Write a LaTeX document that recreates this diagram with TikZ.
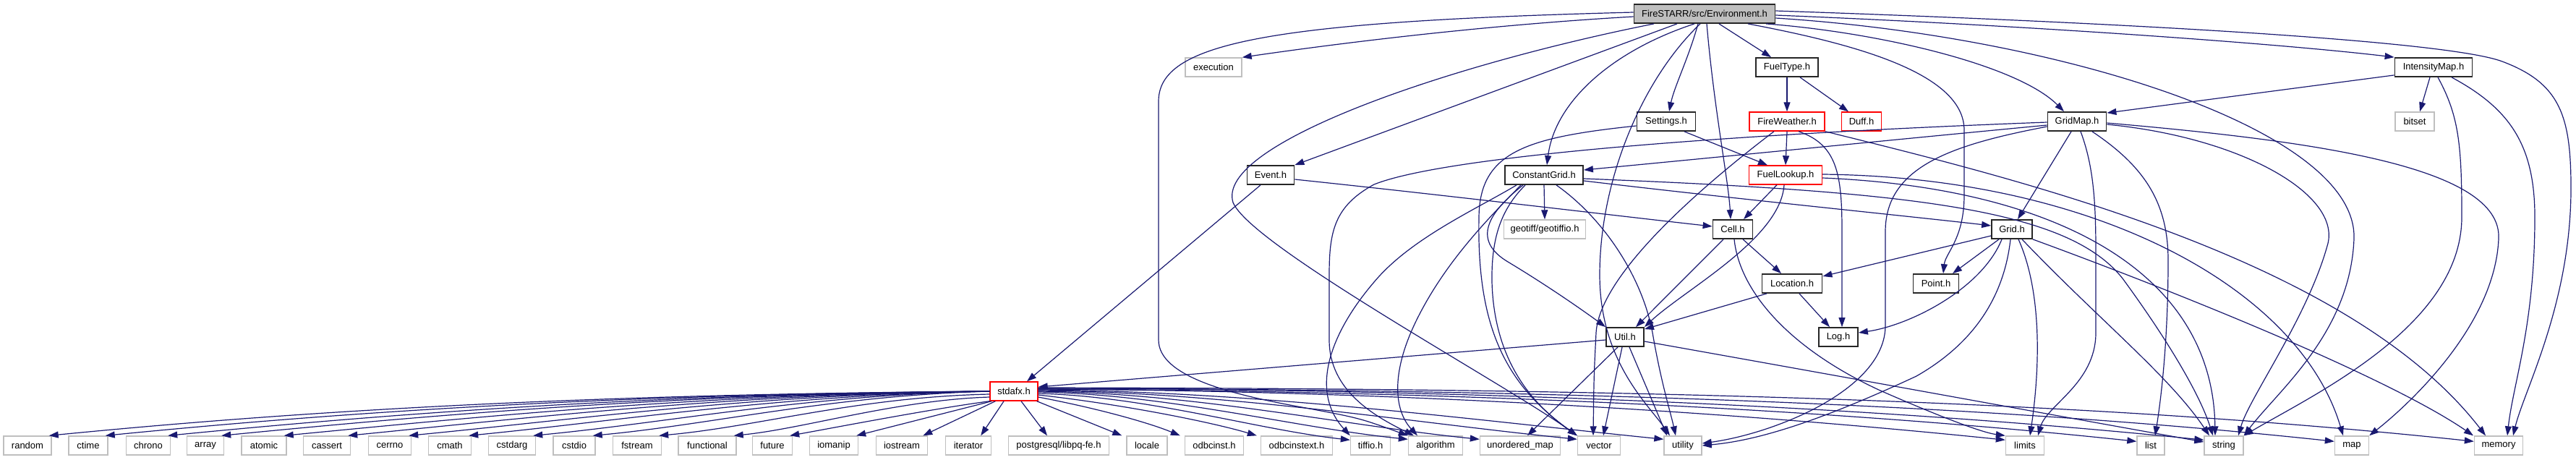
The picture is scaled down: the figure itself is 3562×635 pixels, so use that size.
\documentclass[tikz,border=0pt]{standalone}
\usepackage{fontspec}
\setmainfont{Liberation Sans}
\usetikzlibrary{arrows.meta}
\definecolor{edgecol}{HTML}{191970}
\definecolor{syscol}{HTML}{BFBFBF}
\definecolor{rootfill}{HTML}{BFBFBF}
\definecolor{redcol}{HTML}{FF0000}
\newcommand\mknode[5]{\node[#1,minimum width=#2pt] (#3) at (#4) {#5};}
\begin{document}
\begin{tikzpicture}[x=1pt,y=-1pt,
 base/.style={rectangle, minimum height=26pt, inner xsep=1pt, inner ysep=0pt, font=\fontsize{13}{15}\selectfont, text=black},
 sysbox/.style={base, draw=syscol, line width=1.4pt},
 intbox/.style={base, draw=black!85, line width=1.8pt},
 redbox/.style={base, draw=redcol, line width=1.4pt},
 rootbox/.style={intbox, fill=rootfill},
 e/.style={draw=edgecol, line width=1.2pt, -{Triangle[length=13pt,width=9pt]}}]
\useasboundingbox (0,0) rectangle (3562,635);
% nodes
\mknode{rootbox}{195}{E}{2357,19}{FireSTARR/src/Environment.h}
\mknode{sysbox}{78}{exec}{1678,93}{execution}
\mknode{intbox}{86}{FuelType}{2471,93}{FuelType.h}
\mknode{intbox}{107}{IntMap}{3365,93}{IntensityMap.h}
\mknode{intbox}{81}{Settings}{2304,168}{Settings.h}
\mknode{redbox}{104}{FireWeather}{2471,168}{FireWeather.h}
\mknode{redbox}{55}{Duff}{2574,168}{Duff.h}
\mknode{intbox}{81}{GridMap}{2872,168}{GridMap.h}
\mknode{sysbox}{54}{bitset}{3339,168}{bitset}
\mknode{intbox}{65}{Event}{1757,242}{Event.h}
\mknode{intbox}{108}{ConstantGrid}{2135,242}{ConstantGrid.h}
\mknode{redbox}{101}{FuelLookup}{2469,242}{FuelLookup.h}
\mknode{sysbox}{113}{geotiff}{2136,317}{geotiff/geotiffio.h}
\mknode{intbox}{55}{Cell}{2396,317}{Cell.h}
\mknode{intbox}{56}{Grid}{2782,317}{Grid.h}
\mknode{intbox}{83}{Location}{2478,392}{Location.h}
\mknode{intbox}{63}{Point}{2677,392}{Point.h}
\mknode{intbox}{52}{Util}{2247,466}{Util.h}
\mknode{intbox}{54}{Log}{2542,466}{Log.h}
\mknode{redbox}{66}{stdafx}{1402,541}{stdafx.h}
\mknode{sysbox}{66}{random}{38,616}{random}
\mknode{sysbox}{54}{ctime}{122,616}{ctime}
\mknode{sysbox}{61}{chrono}{205,616}{chrono}
\mknode{sysbox}{51}{array}{284,616}{array}
\mknode{sysbox}{62}{atomic}{365,616}{atomic}
\mknode{sysbox}{65}{cassert}{452,616}{cassert}
\mknode{sysbox}{59}{cerrno}{539,616}{cerrno}
\mknode{sysbox}{59}{cmath}{622,616}{cmath}
\mknode{sysbox}{65}{cstdarg}{708,616}{cstdarg}
\mknode{sysbox}{58}{cstdio}{794,616}{cstdio}
\mknode{sysbox}{67}{fstream}{881,616}{fstream}
\mknode{sysbox}{80}{functional}{978,616}{functional}
\mknode{sysbox}{55}{future}{1068,616}{future}
\mknode{sysbox}{67}{iomanip}{1153,616}{iomanip}
\mknode{sysbox}{71}{iostream}{1247,616}{iostream}
\mknode{sysbox}{63}{iterator}{1339,616}{iterator}
\mknode{sysbox}{139}{postgresql}{1464,616}{postgresql/libpq-fe.h}
\mknode{sysbox}{56}{locale}{1586,616}{locale}
\mknode{sysbox}{81}{odbcinst}{1679,616}{odbcinst.h}
\mknode{sysbox}{99}{odbcinstext}{1793,616}{odbcinstext.h}
\mknode{sysbox}{55}{tiffio}{1895,616}{tiffio.h}
\mknode{sysbox}{75}{algorithm}{1985,616}{algorithm}
\mknode{sysbox}{111}{unorderedmap}{2102,616}{unordered\_map}
\mknode{sysbox}{59}{vector}{2211,616}{vector}
\mknode{sysbox}{52}{utility}{2327,616}{utility}
\mknode{sysbox}{53}{limits}{2800,616}{limits}
\mknode{sysbox}{38}{list}{2974,616}{list}
\mknode{sysbox}{54}{string}{3075,616}{string}
\mknode{sysbox}{47}{map}{3252,616}{map}
\mknode{sysbox}{67}{memory}{3455,616}{memory}
% Environment.h edges
\draw[e] ([yshift=-4pt]E.west) .. controls (2050,35) and (1850,60) .. (exec.north east);
\draw[e] ([yshift=2pt]E.west) .. controls (1750,30) and (1602,60) .. (1602,140) -- (1602,470) .. controls (1602,520) and (1700,545) .. (1800,563) .. controls (1880,578) .. (algorithm.north west);
\draw[e] ([xshift=-70pt]E.south) .. controls (2000,90) and (1680,200) .. (1705,280) .. controls (1730,340) and (2080,530) .. (vector.north west);
\draw[e] ([xshift=-38pt]E.south) -- (Event.north east);
\draw[e] ([xshift=-14pt]E.south) .. controls (2230,70) and (2150,140) .. ([xshift=4pt]ConstantGrid.north);
\draw[e] ([xshift=-9pt]E.south) .. controls (2335,80) and (2315,120) .. ([xshift=4pt]Settings.north);
\draw[e] ([xshift=-6pt]E.south) .. controls (2270,110) and (2212,250) .. (2212,380) .. controls (2212,500) and (2280,560) .. ([xshift=-18pt]utility.north);
\draw[e] ([xshift=3pt]E.south) .. controls (2370,150) and (2390,250) .. ([xshift=-3pt]Cell.north);
\draw[e] ([xshift=20pt]E.south) -- ([xshift=-22pt]FuelType.north);
\draw[e] ([xshift=60pt]E.south) .. controls (2560,60) and (2716,100) .. (2716,180) -- (2716,270) .. controls (2716,330) and (2690,350) .. ([xshift=10pt]Point.north);
\draw[e] ([xshift=85pt]E.south) .. controls (2600,45) and (2790,90) .. ([xshift=-18pt]GridMap.north);
\draw[e] ([yshift=-6pt]E.east) .. controls (2850,50) and (3260,180) .. (3255,330) .. controls (3250,460) and (3150,540) .. (string.north east);
\draw[e] ([yshift=-2pt]E.east) .. controls (2800,35) and (3150,60) .. (IntMap.north west);
\draw[e] ([yshift=4pt]E.east) .. controls (2900,30) and (3380,55) .. (3460,85) .. controls (3540,115) and (3555,160) .. (3555,260) .. controls (3555,420) and (3490,540) .. ([xshift=20pt]memory.north);
% FuelType.h
\draw[e] (FuelType.south) -- (FireWeather.north);
\draw[e] ([xshift=18pt]FuelType.south) -- ([xshift=-18pt]Duff.north);
% IntensityMap.h
\draw[e] ([yshift=3pt]IntMap.south west) -- ([yshift=-2pt]GridMap.north east);
\draw[e] ([xshift=-5pt]IntMap.south) -- ([xshift=7pt]bitset.north);
\draw[e] ([xshift=6pt]IntMap.south) .. controls (3400,160) and (3404,200) .. (3404,300) .. controls (3404,450) and (3200,545) .. (string.north east);
\draw[e] ([xshift=25pt]IntMap.south) .. controls (3470,150) and (3505,200) .. (3505,300) .. controls (3505,450) and (3475,530) .. ([xshift=12pt]memory.north);
% Settings.h
\draw[e] ([xshift=25pt]Settings.south) -- ([xshift=-25pt]FuelLookup.north);
\draw[e] ([yshift=-6pt]Settings.west) .. controls (2110,190) and (2046,210) .. (2045,300) .. controls (2042,450) and (2080,530) .. (vector.north west);
% FireWeather.h
\draw[e] (FireWeather.south) -- (FuelLookup.north);
\draw[e] ([xshift=-18pt]FireWeather.south) .. controls (2350,260) and (2212,380) .. (2207,460) .. controls (2204,520) .. ([xshift=-8pt]vector.north);
\draw[e] ([xshift=16pt]FireWeather.south) .. controls (2540,200) and (2547,240) .. (2547,320) .. controls (2547,390) .. ([xshift=5pt]Log.north);
\draw[e] (FireWeather.south east) .. controls (2800,250) and (3250,360) .. ([xshift=-18pt]memory.north);
% FuelLookup.h
\draw[e] ([xshift=-12pt]FuelLookup.south) -- ([xshift=15pt]Cell.north);
\draw[e] ([xshift=-2pt]FuelLookup.south) .. controls (2462,330) and (2330,400) .. (Util.north east);
\draw[e] ([yshift=1pt]FuelLookup.east) .. controls (2900,245) and (3180,400) .. ([xshift=-12pt]map.north);
\draw[e] ([yshift=-4pt]FuelLookup.east) .. controls (2850,260) and (3060,380) .. ([xshift=-12pt]string.north);
% ConstantGrid.h
\draw[e] (ConstantGrid.south) -- (geotiff.north);
\draw[e] ([yshift=-8pt]ConstantGrid.east) .. controls (2400,275) and (2650,300) .. ([yshift=5pt]Grid.west);
\draw[e] ([yshift=-5pt]ConstantGrid.east) .. controls (2650,265) and (2860,290) .. (2935,385) .. controls (2990,460) and (3040,540) .. ([xshift=-15pt]string.north);
\draw[e] ([xshift=-38pt]ConstantGrid.south) .. controls (2040,290) and (1950,330) .. (1900,390) .. controls (1840,460) and (1810,540) .. (tiffio.north west);
\draw[e] ([xshift=-32pt]ConstantGrid.south) .. controls (2060,300) and (2000,360) .. (1960,440) .. controls (1920,520) and (1930,570) .. ([xshift=-25pt]algorithm.north);
\draw[e] ([xshift=-26pt]ConstantGrid.south) .. controls (2075,290) and (2062,330) .. (2063,390) .. controls (2066,500) and (2120,560) .. (vector.north west);
\draw[e] ([xshift=-29pt]ConstantGrid.south) .. controls (2050,300) and (2040,335) .. (2085,362) .. controls (2140,395) and (2190,430) .. (Util.north west);
\draw[e] ([xshift=17pt]ConstantGrid.south) .. controls (2215,300) and (2270,380) .. (2285,460) .. controls (2297,530) and (2310,570) .. ([xshift=-10pt]utility.north);
% Cell.h
\draw[e] ([xshift=14pt]Cell.south) -- ([xshift=-15pt]Location.north);
\draw[e] ([xshift=-13pt]Cell.south) -- ([xshift=15pt]Util.north);
\draw[e] ([xshift=2pt]Cell.south) .. controls (2405,400) and (2470,480) .. (2600,540) .. controls (2680,575) and (2740,598) .. (limits.north west);
% Location.h
\draw[e] ([xshift=-35pt]Location.south) -- ([yshift=-3pt]Util.north east);
\draw[e] ([xshift=10pt]Location.south) -- ([xshift=-12pt]Log.north);
% Grid.h
\draw[e] ([yshift=-9pt]Grid.west) -- ([yshift=10pt]Location.east);
\draw[e] ([xshift=-14pt]Grid.south) .. controls (2740,400) and (2640,450) .. ([yshift=6pt]Log.east);
\draw[e] ([xshift=-18pt]Grid.south) -- ([xshift=23pt]Point.north);
\draw[e] ([xshift=-2pt]Grid.south) .. controls (2770,420) and (2720,480) .. (2650,520) .. controls (2500,590) and (2420,610) .. (utility.east);
\draw[e] ([xshift=9pt]Grid.south) .. controls (2822,400) and (2822,500) .. ([xshift=7pt]limits.north);
\draw[e] ([xshift=14pt]Grid.south) .. controls (2900,440) and (3000,520) .. ([xshift=-20pt]string.north);
\draw[e] (Grid.south east) .. controls (3000,400) and (3300,520) .. ([xshift=-35pt]memory.north);
% GridMap.h
\draw[e] ([yshift=-5pt]GridMap.west) .. controls (2600,195) and (2400,215) .. ([yshift=7pt]ConstantGrid.east);
\draw[e] ([xshift=-8pt]GridMap.south) -- ([xshift=8pt]Grid.north);
\draw[e] ([xshift=5pt]GridMap.south) .. controls (2895,230) and (2898,280) .. (2898,350) -- (2898,460) .. controls (2898,530) and (2830,560) .. ([xshift=18pt]limits.north);
\draw[e] ([xshift=21pt]GridMap.south) .. controls (2965,230) and (2998,280) .. (2998,360) .. controls (2998,460) and (2990,540) .. ([xshift=6pt]list.north);
\draw[e] ([yshift=-4pt]GridMap.east) .. controls (3100,190) and (3240,270) .. (3218,340) .. controls (3190,440) and (3110,550) .. ([xshift=20pt]string.north);
\draw[e] ([yshift=-2pt]GridMap.east) .. controls (3200,195) and (3460,230) .. (3455,330) .. controls (3450,450) and (3330,560) .. (map.north east);
\draw[e] ([yshift=-7pt]GridMap.west) .. controls (2700,200) and (2607,230) .. (2607,320) -- (2607,450) .. controls (2607,540) and (2450,600) .. ([yshift=3pt]utility.east);
\draw[e] ([yshift=-1pt]GridMap.west) .. controls (2400,185) and (2000,215) .. (1900,255) .. controls (1845,285) and (1838,320) .. (1838,380) -- (1838,470) .. controls (1838,540) and (1900,575) .. ([xshift=-30pt]algorithm.north);
% Event.h
\draw[e] ([yshift=-6pt]Event.east) .. controls (2000,270) and (2250,300) .. ([yshift=4pt]Cell.west);
\draw[e] ([xshift=-14pt]Event.south) -- ([xshift=18pt]stdafx.north);
% Util.h
\draw[e] ([yshift=-4pt]Util.west) -- ([yshift=6pt]stdafx.east);
\draw[e] ([xshift=-10pt]Util.south) -- ([xshift=10pt]unorderedmap.north);
\draw[e] ([xshift=-4pt]Util.south) -- ([xshift=6pt]vector.north);
\draw[e] ([xshift=6pt]Util.south) -- ([xshift=-22pt]utility.north);
\draw[e] ([yshift=-6pt]Util.east) .. controls (2600,530) and (2900,585) .. ([yshift=5pt]string.west);
% stdafx.h
\draw[e] (stdafx.west) .. controls (848,545) and (458,564) .. ([xshift=-4pt]random.north east);
\draw[e] (stdafx.west) .. controls (879,545) and (512,566) .. ([xshift=-4pt]ctime.north east);
\draw[e] (stdafx.west) .. controls (914,545) and (572,569) .. ([xshift=-4pt]chrono.north east);
\draw[e] (stdafx.west) .. controls (944,545) and (625,571) .. ([xshift=-4pt]array.north east);
\draw[e] (stdafx.west) .. controls (978,545) and (685,574) .. ([xshift=-4pt]atomic.north east);
\draw[e] (stdafx.west) .. controls (1014,545) and (747,576) .. ([xshift=-4pt]cassert.north east);
\draw[e] (stdafx.west) .. controls (1047,545) and (806,579) .. ([xshift=-4pt]cerrno.north east);
\draw[e] (stdafx.west) .. controls (1080,546) and (864,581) .. ([xshift=-4pt]cmath.north east);
\draw[e] (stdafx.west) .. controls (1116,546) and (927,584) .. ([xshift=-4pt]cstdarg.north east);
\draw[e] (stdafx.west) .. controls (1149,547) and (984,587) .. ([xshift=-4pt]cstdio.north east);
\draw[e] ([yshift=-4pt]stdafx.west) .. controls (1185,549) and (1048,590) .. ([xshift=-4pt]fstream.north east);
\draw[e] ([yshift=-8pt]stdafx.west) .. controls (1240,553) and (1110,593) .. ([xshift=-4pt]functional.north east);
\draw[e] (stdafx.south west) .. controls (1290,565) and (1150,592) .. ([xshift=-4pt]future.north east);
\draw[e] ([xshift=3pt]stdafx.south west) -- ([xshift=-3pt]iomanip.north east);
\draw[e] ([xshift=8pt]stdafx.south west) -- ([xshift=-7pt]iostream.north east);
\draw[e] ([xshift=-14pt]stdafx.south) -- ([xshift=-15pt]iterator.north east);
\draw[e] ([xshift=10pt]stdafx.south) -- ([xshift=-16pt]postgresql.north);
\draw[e] ([xshift=-2pt]stdafx.south east) -- ([xshift=-6pt]locale.north west);
\draw[e] ([yshift=-8pt]stdafx.east) .. controls (1520,565) and (1590,585) .. ([xshift=-6pt]odbcinst.north west);
\draw[e] ([yshift=-5pt]stdafx.east) .. controls (1560,560) and (1680,585) .. ([xshift=-5pt]odbcinstext.north west);
\draw[e] ([yshift=-3pt]stdafx.east) .. controls (1587,548) and (1738,594) .. ([yshift=-6pt]tiffio.north west);
\draw[e] ([yshift=-1pt]stdafx.east) .. controls (1615,545) and (1794,592) .. ([yshift=-5pt]algorithm.north west);
\draw[e] (stdafx.east) .. controls (1649,543) and (1863,589) .. ([yshift=-5pt]unorderedmap.north west);
\draw[e] ([yshift=1pt]stdafx.east) .. controls (1696,542) and (1958,585) .. ([yshift=-5pt]vector.north west);
\draw[e] ([yshift=2pt]stdafx.east) .. controls (1738,541) and (2041,581) .. ([yshift=-5pt]utility.north west);
\draw[e] ([yshift=3pt]stdafx.east) .. controls (1904,540) and (2372,567) .. ([yshift=-6pt]limits.north west);
\draw[e] ([yshift=3pt]stdafx.east) .. controls (1967,540) and (2499,562) .. ([yshift=-8pt]list.north west);
\draw[e] ([yshift=4pt]stdafx.east) .. controls (2000,538) and (2564,559) .. ([yshift=-6pt]string.north west);
\draw[e] ([yshift=4pt]stdafx.east) .. controls (2063,538) and (2691,553) .. ([yshift=-8pt]map.north west);
\draw[e] ([yshift=5pt]stdafx.east) .. controls (2130,537) and (2826,547) .. ([yshift=-8pt]memory.north west);
\end{tikzpicture}
\end{document}
